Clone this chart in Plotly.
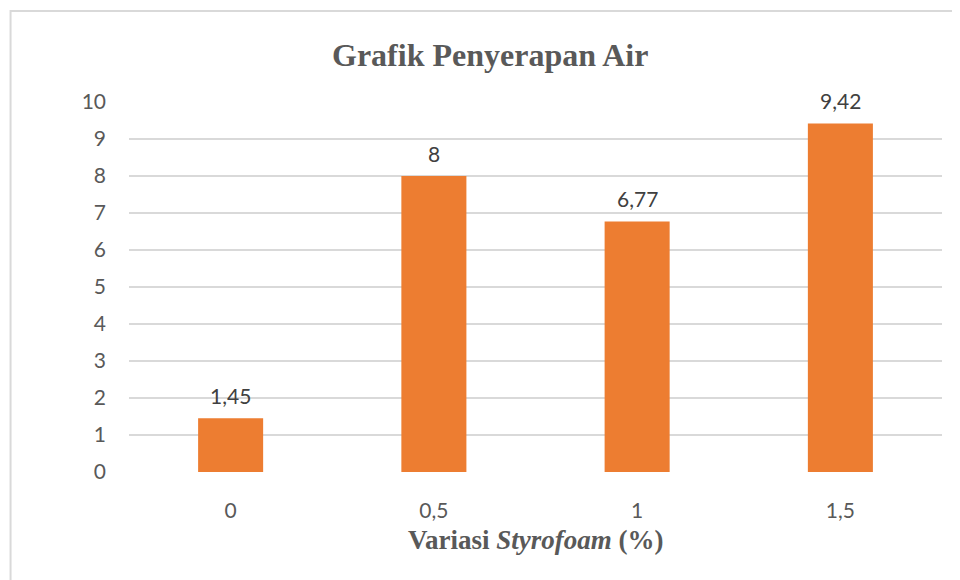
import plotly.graph_objects as go

categories = ["0", "0,5", "1", "1,5"]
values = [1.45, 8, 6.77, 9.42]
value_labels = ["1,45", "8", "6,77", "9,42"]
y_ticks = [0, 1, 2, 3, 4, 5, 6, 7, 8, 9, 10]

ORANGE = "#ED7D31"
GRID = "#D9D9D9"
TEXT = "#595959"

fig = go.Figure()
fig.add_trace(go.Bar(
    x=categories, y=values,
    marker=dict(color=ORANGE, line=dict(width=0)),
    hoverinfo="skip",
))

annotations = []
for i, (v, lab) in enumerate(zip(values, value_labels)):
    annotations.append(dict(
        x=i, y=v, xref="x", yref="y", text=lab, showarrow=False,
        yanchor="middle", yshift=23,
        font=dict(family="Lato", size=21, color="#404040"),
    ))

annotations.append(dict(
    x=0.4437, y=1.127, xref="paper", yref="paper", showarrow=False,
    xanchor="center", yanchor="middle",
    text="<b>Grafik Penyerapan Air</b>",
    font=dict(family="Liberation Serif", size=32, color=TEXT),
))
annotations.append(dict(
    x=0.5, y=-0.185, xref="paper", yref="paper", showarrow=False,
    xanchor="center", yanchor="middle",
    text="<b>Variasi <i>Styrofoam</i> (%)</b>",
    font=dict(family="Liberation Serif", size=27, color=TEXT),
))

fig.update_layout(
    width=952, height=572,
    margin=dict(l=121, r=18, t=94, b=108, pad=0),
    paper_bgcolor="white", plot_bgcolor="white",
    bargap=0.68,
    showlegend=False,
    annotations=annotations,
    shapes=[dict(
        type="rect", xref="paper", yref="paper",
        x0=-0.1457, x1=1.03, y0=-0.33, y1=1.246,
        line=dict(color=GRID, width=2), fillcolor="rgba(0,0,0,0)",
        layer="below",
    )],
)
fig.update_xaxes(
    type="category",
    showgrid=False, zeroline=False, showline=False,
    tickfont=dict(family="Lato", size=21, color=TEXT),
    ticks="", ticklabelstandoff=24,
)
fig.update_yaxes(
    range=[0, 10], tickvals=y_ticks, ticktext=[str(t) for t in y_ticks],
    showgrid=True, gridcolor=GRID, gridwidth=1.5,
    zeroline=False, showline=False,
    tickfont=dict(family="Lato", size=21, color=TEXT),
    ticks="", ticklabelstandoff=22,
)

fig.write_html("out.html")
